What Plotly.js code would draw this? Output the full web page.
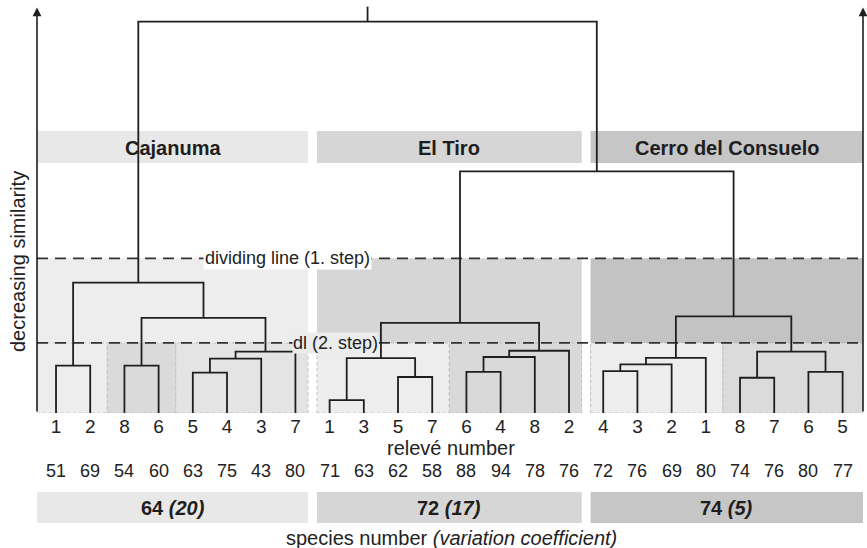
<!DOCTYPE html>
<html><head><meta charset="utf-8">
<script src="https://cdn.plot.ly/plotly-3.0.1.min.js"></script>
<style>html,body{margin:0;padding:0;background:#fff}#chart{width:867px;height:548px}</style>
</head><body><div id="chart"></div>
<script>
// ---------- DATA ----------
const siteNames = ['Cajanuma', 'El Tiro', 'Cerro del Consuelo'];
// leaves in dendrogram order
const leafSite       = [0,0,0,0,0,0,0,0, 1,1,1,1,1,1,1,1, 2,2,2,2,2,2,2,2];
const releveNumbers  = [1,2,8,6,5,4,3,7, 1,3,5,7,6,4,8,2, 4,3,2,1,8,7,6,5];
const speciesNumbers = [51,69,54,60,63,75,43,80, 71,63,62,58,88,94,78,76, 72,76,69,80,74,76,80,77];
const siteMeanSpecies = [64, 72, 74];
const siteVariationCoef = [20, 17, 5];
// merges (node ids: 0-23 leaves, 24+ = merges in this order)
const mergeLeft   = [0, 2, 4, 26, 27, 25, 24,   8, 10, 31, 12, 34, 35, 33,   16, 38, 39, 20, 22, 41, 40,   37, 30];
const mergeRight  = [1, 3, 5,  6,  7, 28, 29,   9, 11, 32, 13, 14, 15, 36,   17, 18, 19, 21, 23, 42, 43,   44, 45];
const mergeHeight = [12.1,12.1,10.3,13.9,15.7,24.3,33.3,  3.3,9.2,14.0,10.5,14.3,15.9,23.0,  10.7,12.4,14.1,9.0,10.5,15.7,24.7,  61.7,100];
// dividing lines (decreasing similarity units)
const dividingLevels = [39.5, 17.9];
const dividingLabels = ['dividing line (1. step)', 'dl (2. step)'];
// groups below 2nd dividing line (first / last leaf index)
const subgroupFirst = [0, 2, 4,  8, 12,  16, 20];
const subgroupLast  = [1, 3, 7, 11, 15,  19, 23];

// ---------- STYLE ----------
const FONT = 'Liberation Sans, Arial, Helvetica, sans-serif';
const INK = '#1f1f1f';
const siteBandColor  = ['#e8e8e8', '#d6d6d6', '#c6c6c6'];
const siteUpperColor = ['#ededed', '#d6d6d6', '#c3c3c3'];
const subgroupColor  = ['#ededed', '#dadada', '#e4e4e4', '#ededed', '#d9d9d9', '#ededed', '#dbdbdb'];
const W = 867, H = 548, M = {l: 37, r: 4, t: 0, b: 135};
const plotH = H - M.t - M.b, plotW = W - M.l - M.r;
const xMin = -0.556, xMax = 23.596, yMax = 105.5;
const gapHalf = 0.13;
const py = px => (plotH - px) / plotH;      // pixel row -> paper y
const pxp = px => (px - M.l) / plotW;       // pixel column -> paper x

// ---------- DENDROGRAM ----------
const nodeX = releveNumbers.map((_, i) => i);
const nodeH = releveNumbers.map(() => 0);
const lx = [], ly = [];
mergeLeft.forEach((a, k) => {
  const b = mergeRight[k], h = mergeHeight[k];
  lx.push(nodeX[a], nodeX[a], nodeX[b], nodeX[b], null);
  ly.push(nodeH[a], h, h, nodeH[b], null);
  nodeX.push((nodeX[a] + nodeX[b]) / 2);
  nodeH.push(h);
});
const root = nodeX.length - 1;
lx.push(nodeX[root], nodeX[root]);
ly.push(nodeH[root], nodeH[root] + 3.8);

// site extents
const siteFirst = siteNames.map((_, s) => leafSite.indexOf(s));
const siteLast = siteNames.map((_, s) => leafSite.lastIndexOf(s));
const sx0 = s => s === 0 ? xMin : siteFirst[s] - 0.5 + gapHalf;
const sx1 = s => s === siteNames.length - 1 ? xMax : siteLast[s] + 0.5 - gapHalf;
const sxc = s => (sx0(s) + sx1(s)) / 2;

const shapes = [];
siteNames.forEach((_, s) => {
  shapes.push({type:'rect', xref:'x', yref:'paper', x0:sx0(s), x1:sx1(s), y0:py(163), y1:py(131),
    fillcolor:siteBandColor[s], line:{width:0}, layer:'below'});
  shapes.push({type:'rect', xref:'x', yref:'y', x0:sx0(s), x1:sx1(s), y0:0, y1:dividingLevels[0],
    fillcolor:siteUpperColor[s], line:{width:0}, layer:'below'});
  shapes.push({type:'rect', xref:'x', yref:'paper', x0:sx0(s), x1:sx1(s), y0:py(523), y1:py(492),
    fillcolor:siteBandColor[s], line:{width:0}, layer:'below'});
});
subgroupFirst.forEach((f, k) => {
  const l = subgroupLast[k], s = leafSite[f];
  const x0 = f === siteFirst[s] ? sx0(s) : f - 0.5;
  const x1 = l === siteLast[s] ? sx1(s) : l + 0.5;
  shapes.push({type:'rect', xref:'x', yref:'y', x0, x1, y0:0, y1:dividingLevels[1],
    fillcolor:subgroupColor[k], line:{width:0.8, color:'#b5b5b5', dash:'dot'}, layer:'below'});
});
dividingLevels.forEach(v => {
  shapes.push({type:'line', xref:'x', yref:'y', x0:xMin, x1:xMax, y0:v, y1:v,
    line:{color:'#333333', width:1.8, dash:'11px,7px'}, layer:'below'});
});

const annotations = [];
const ann = o => annotations.push(Object.assign({showarrow:false, xanchor:'center', yanchor:'middle'}, o));
siteNames.forEach((name, s) => {
  ann({xref:'x', yref:'paper', x:sxc(s), y:py(148), text:'<b>' + name + '</b>',
    font:{family:FONT, size:20, color:'#1e1e1e'}});
  ann({xref:'x', yref:'paper', x:sxc(s), y:py(508),
    text:'<b>' + siteMeanSpecies[s] + ' <i>(' + siteVariationCoef[s] + ')</i></b>',
    font:{family:FONT, size:20, color:'#1e1e1e'}});
});
speciesNumbers.forEach((v, i) => {
  ann({xref:'x', yref:'paper', x:i, y:py(471), text:String(v), font:{family:FONT, size:18, color:'#222'}});
});
ann({xref:'paper', yref:'y', x:pxp(287), y:dividingLevels[0], text:dividingLabels[0],
  bgcolor:'#ffffff', borderpad:1, font:{family:FONT, size:18, color:'#222'}});
ann({xref:'paper', yref:'y', x:pxp(335), y:dividingLevels[1], text:dividingLabels[1],
  bgcolor:'#ececec', borderpad:0, font:{family:FONT, size:18, color:'#222'}});
ann({xref:'paper', yref:'paper', x:pxp(451), y:py(448), text:'relevé number',
  font:{family:FONT, size:20, color:'#222'}});
ann({xref:'paper', yref:'paper', x:pxp(451), y:py(538),
  text:'species number <i>(variation coefficient)</i>', font:{family:FONT, size:20, color:'#222'}});
ann({xref:'paper', yref:'paper', x:pxp(18), y:py(262), text:'decreasing similarity', textangle:-90,
  font:{family:FONT, size:20, color:'#222'}});
// axis arrows
[xMin, xMax].forEach(xv => {
  annotations.push({xref:'x', yref:'y', axref:'x', ayref:'y', x:xv, y:103.6, ax:xv, ay:0, text:'',
    showarrow:true, arrowhead:2, arrowsize:1.1, arrowwidth:1.6, arrowcolor:INK, standoff:0, startstandoff:0});
});

const trace = {type:'scatter', mode:'lines', x:lx, y:ly, line:{color:INK, width:1.8},
  hoverinfo:'skip', showlegend:false, cliponaxis:false};

const layout = {
  width:W, height:H, margin:M, paper_bgcolor:'#fff', plot_bgcolor:'#fff',
  font:{family:FONT, color:'#222'},
  xaxis:{range:[xMin, xMax], showgrid:false, zeroline:false, showline:false, ticks:'',
    tickmode:'array', tickvals:releveNumbers.map((_, i) => i), ticktext:releveNumbers.map(String),
    tickfont:{family:FONT, size:19, color:'#222'}, automargin:false, fixedrange:true},
  yaxis:{range:[0, yMax], visible:false, fixedrange:true, automargin:false},
  shapes, annotations, showlegend:false
};
Plotly.newPlot('chart', [trace], layout, {staticPlot:true, displayModeBar:false});
</script></body></html>
